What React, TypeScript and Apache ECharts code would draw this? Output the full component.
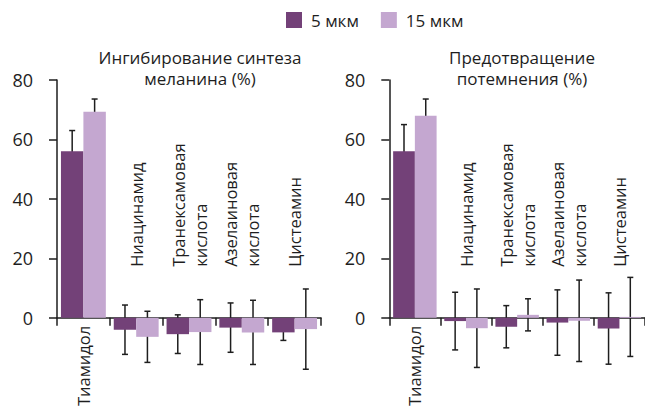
import React, { useEffect, useRef } from 'react';
import * as echarts from 'echarts';

const categories = ['Тиамидол', 'Ниацинамид', 'Транексамовая\nкислота', 'Азелаиновая\nкислота', 'Цистеамин'];
const seriesNames = ['5 мкм', '15 мкм'];
const panelTitles = ['Ингибирование синтеза\nмеланина (%)', 'Предотвращение\nпотемнения (%)'];

// Panel 1: inhibition of melanin synthesis (%)
const inhib5 = [56, -4, -5.5, -3.3, -4.9];
const inhib5Err = [7, 8.3, 6.5, 8.3, 2.7];
const inhib15 = [69.3, -6.4, -4.8, -4.9, -3.8];
const inhib15Err = [4.3, 8.6, 10.9, 10.8, 13.5];

// Panel 2: prevention of darkening (%)
const dark5 = [56, -1.1, -3.0, -1.6, -3.6];
const dark5Err = [9, 9.7, 7.1, 11, 12];
const dark15 = [68, -3.5, 1.0, -1.0, 0.3];
const dark15Err = [5.6, 13.2, 5.4, 13.7, 13.3];

const yMin = 0;
const yMax = 80;
const yStep = 20;

const COLORS = ['#734178', '#C4A7D0'];
const INK = '#1e1e1e';
const FONT = '"Open Sans"';
const GAP = 0.15;

function errSeries(vals: number[], errs: number[], slot: number, idx: number) {
  return {
    type: 'custom',
    xAxisIndex: idx * 2,
    yAxisIndex: idx,
    z: 1,
    silent: true,
    clip: false,
    encode: { x: 0, y: [1, 2] },
    data: vals.map((v, i) => [i, v - errs[i], v + errs[i]]),
    renderItem: (params: any, api: any) => {
      const band = api.size([1, 0])[0];
      const bw = (band * (1 - GAP)) / 2;
      const off = (slot === 0 ? -0.5 : 0.5) * bw;
      const lo = api.coord([api.value(0), api.value(1)]);
      const hi = api.coord([api.value(0), api.value(2)]);
      const x = lo[0] + off;
      const cap = 3;
      const style = { stroke: INK, lineWidth: 1.5 };
      return {
        type: 'group',
        children: [
          { type: 'line', shape: { x1: x, y1: lo[1], x2: x, y2: hi[1] }, style },
          { type: 'line', shape: { x1: x - cap, y1: lo[1], x2: x + cap, y2: lo[1] }, style },
          { type: 'line', shape: { x1: x - cap, y1: hi[1], x2: x + cap, y2: hi[1] }, style },
        ],
      };
    },
  };
}

function barSeries(vals: number[], slot: number, idx: number) {
  return {
    type: 'bar',
    name: seriesNames[slot],
    xAxisIndex: idx * 2,
    yAxisIndex: idx,
    data: vals,
    z: 3,
    clip: false,
    barGap: '0%',
    barCategoryGap: `${GAP * 100}%`,
    itemStyle: { color: COLORS[slot] },
  };
}

export default function App() {
  const ref = useRef<HTMLDivElement>(null);
  useEffect(() => {
    if (!ref.current) return;
    const chart = echarts.init(ref.current, undefined, { renderer: 'svg' });
    const grids = [
      { left: 57, top: 80, width: 264, height: 239.3 },
      { left: 389.3, top: 80, width: 263.5, height: 239.3 },
    ];
    const xAxes: any[] = [];
    const yAxes: any[] = [];
    grids.forEach((_, gi) => {
      xAxes.push({
        type: 'category',
        gridIndex: gi,
        position: 'bottom',
        data: categories,
        axisLine: { show: true, lineStyle: { color: INK, width: 1.5 } },
        axisTick: { show: true, length: 8, lineStyle: { color: INK, width: 1.5 } },
        axisLabel: {
          interval: 0,
          rotate: 90,
          margin: 8,
          color: INK,
          fontFamily: FONT,
          fontSize: 16.5,
          formatter: (v: string, i: number) => (i === 0 ? v : ''),
        },
      });
      xAxes.push({
        type: 'category',
        gridIndex: gi,
        position: 'bottom',
        data: categories,
        axisLine: { show: false },
        axisTick: { show: false },
        axisLabel: {
          interval: 0,
          rotate: 90,
          inside: true,
          margin: 51,
          color: INK,
          fontFamily: FONT,
          fontSize: 16.5,
          lineHeight: 22,
          formatter: (v: string, i: number) => (i === 0 ? '' : v),
        },
      });
      yAxes.push({
        type: 'value',
        gridIndex: gi,
        min: yMin,
        max: yMax,
        interval: yStep,
        axisLine: { show: true, lineStyle: { color: INK, width: 1.5 } },
        axisTick: { show: true, length: 8, lineStyle: { color: INK, width: 1.5 } },
        splitLine: { show: false },
        axisLabel: { margin: 24, color: INK, fontFamily: FONT, fontSize: 18 },
      });
    });

    const titleStyle = { color: INK, fontFamily: FONT, fontSize: 17, fontWeight: 'normal', lineHeight: 21 };
    chart.setOption({
      animation: false,
      backgroundColor: '#ffffff',
      title: [
        { text: panelTitles[0], left: 200, top: 47, padding: 0, textAlign: 'center', textStyle: titleStyle },
        { text: panelTitles[1], left: 522, top: 47, padding: 0, textAlign: 'center', textStyle: titleStyle },
      ],
      legend: {
        data: seriesNames,
        left: 286,
        top: 11.5,
        padding: 0,
        icon: 'rect',
        itemWidth: 16,
        itemHeight: 16,
        itemGap: 22,
        textStyle: { color: INK, fontFamily: FONT, fontSize: 17, padding: [0, 0, 0, 4] },
      },
      grid: grids,
      xAxis: xAxes,
      yAxis: yAxes,
      series: [
        barSeries(inhib5, 0, 0),
        barSeries(inhib15, 1, 0),
        barSeries(dark5, 0, 1),
        barSeries(dark15, 1, 1),
        errSeries(inhib5, inhib5Err, 0, 0),
        errSeries(inhib15, inhib15Err, 1, 0),
        errSeries(dark5, dark5Err, 0, 1),
        errSeries(dark15, dark15Err, 1, 1),
      ],
    });
    return () => chart.dispose();
  }, []);
  return (
    <div
      ref={ref}
      style={{ position: 'fixed', left: 0, top: 0, width: 645, height: 409, background: '#fff' }}
    />
  );
}
